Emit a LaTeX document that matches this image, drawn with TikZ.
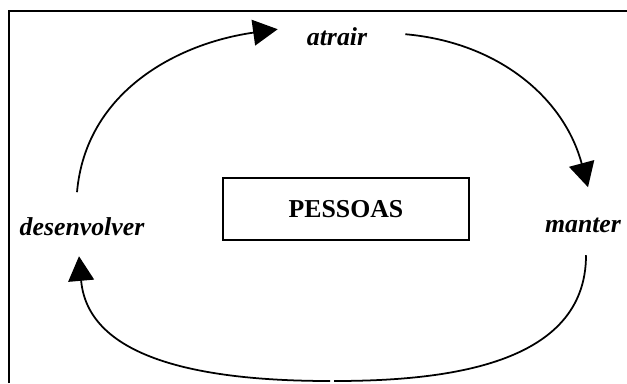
\documentclass[tikz,border=0pt]{standalone}
\usepackage{fontspec}
\setmainfont{Liberation Serif}
\usetikzlibrary{arrows.meta}
\begin{document}
\begin{tikzpicture}[x=0.03cm,y=-0.03cm,
  word/.style={font=\fontsize{22}{26}\selectfont\bfseries\itshape, inner sep=0pt, text height=15pt, text depth=0pt, anchor=base},
  flow/.style={line width=1.5pt, -{Triangle[length=21pt,width=22pt]}},
  plain/.style={line width=1.5pt}]
\useasboundingbox (0,0) rectangle (627,383);
\draw[line width=1.2pt] (9,383) -- (9,11) -- (627,11);

\node[draw, line width=1.8pt, minimum width=7.38cm, minimum height=1.86cm, inner sep=0pt, font=\fontsize{22}{26}\selectfont\bfseries] (pessoas) at (346,209) {PESSOAS};
\node[word] (atr) at (337,45) {atrair};
\node[word] (man) at (583,232) {manter};
\node[word] (dev) at (82,235) {desenvolver};
\coordinate (botR) at (334,381);
\coordinate (botL) at (330,381);

\draw[flow] ([shift={(-5,-25)}]dev.north) to[out=85,in=188] ([shift={(-29,-7)}]atr.west);
\draw[flow] ([shift={(38,-2)}]atr.east) to[out=-5,in=105] ([shift={(5,-27)}]man.north);
\draw[plain] ([shift={(3,23)}]man.south) to[out=-90,in=0] (botR);
\draw[flow] (botL) to[out=180,in=-85] ([shift={(-3,21)}]dev.south);
\end{tikzpicture}
\end{document}
